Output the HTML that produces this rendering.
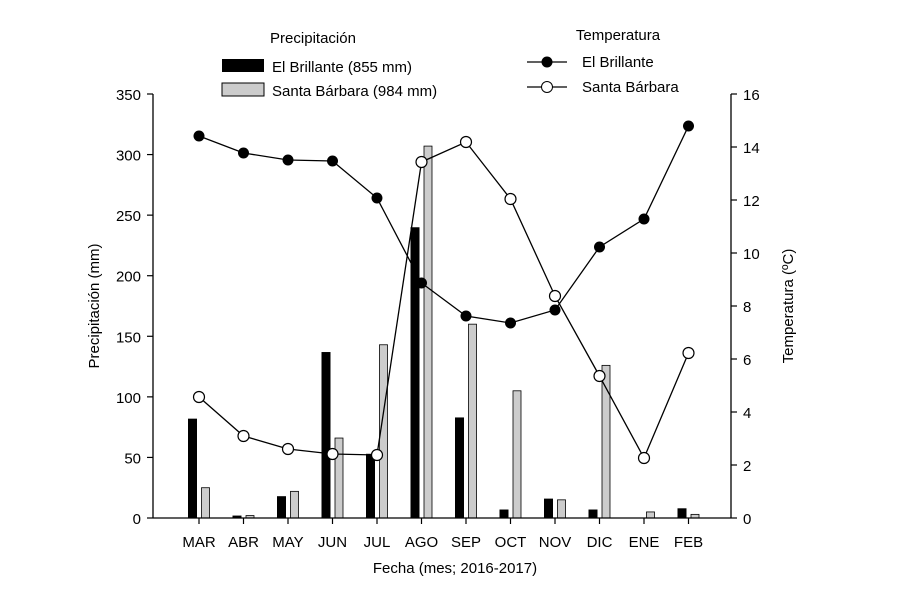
<!DOCTYPE html>
<html><head><meta charset="utf-8"><style>body{margin:0;background:#fff}svg{display:block}text{font-family:"Liberation Sans",sans-serif;fill:#000}</style></head><body>
<svg width="900" height="600" viewBox="0 0 900 600" xmlns="http://www.w3.org/2000/svg">
<g id="bars"></g>
<g stroke="#000" stroke-width="1.3" fill="none">
<line x1="153" y1="94" x2="153" y2="518"/>
<line x1="153" y1="518" x2="731" y2="518"/>
<line x1="731" y1="94" x2="731" y2="518"/>
</g>
<g id="ticks" stroke="#000" stroke-width="1.2"></g>
<g id="lab" font-size="15"></g>
<polyline id="l1" fill="none" stroke="#000" stroke-width="1.3"/>
<polyline id="l2" fill="none" stroke="#000" stroke-width="1.3"/>
<g id="m"></g>
<text x="455" y="573" font-size="15" text-anchor="middle">Fecha (mes; 2016-2017)</text>
<text transform="translate(99,306) rotate(-90)" font-size="15" text-anchor="middle">Precipitación (mm)</text>
<text transform="translate(793,306) rotate(-90)" font-size="15" text-anchor="middle">Temperatura (ºC)</text>
<text x="313" y="43" font-size="15" text-anchor="middle">Precipitación</text>
<rect x="222" y="59" width="42" height="13" fill="#000"/>
<text x="272" y="72" font-size="15">El Brillante (855 mm)</text>
<rect x="222" y="83" width="42" height="13" fill="#ccc" stroke="#000"/>
<text x="272" y="96" font-size="15">Santa Bárbara (984 mm)</text>
<text x="618" y="40" font-size="15" text-anchor="middle">Temperatura</text>
<line x1="527" y1="62" x2="567" y2="62" stroke="#000" stroke-width="1.3"/><circle cx="547" cy="62" r="5.5" fill="#000"/>
<text x="582" y="67" font-size="15">El Brillante</text>
<line x1="527" y1="87" x2="567" y2="87" stroke="#000" stroke-width="1.3"/><circle cx="547" cy="87" r="5.5" fill="#fff" stroke="#000"/>
<text x="582" y="92" font-size="15">Santa Bárbara</text>
<script>
var ns="http://www.w3.org/2000/svg";
function el(p,t,a,tx){var e=document.createElementNS(ns,t);for(var k in a)e.setAttribute(k,a[k]);if(tx!==undefined)e.textContent=String(tx);document.getElementById(p).appendChild(e);return e;}
var mo=["MAR","ABR","MAY","JUN","JUL","AGO","SEP","OCT","NOV","DIC","ENE","FEB"];
var b1=[82,2,18,137,53,240,83,7,16,7,0,8],b2=[25,2,22,66,143,307,160,105,15,126,5,3];
var y1=[136,153,160,161,198,283,316,323,310,247,219,126],y2=[397,436,449,454,455,162,142,199,296,376,458,353];
var s=424/350,p1=[],p2=[];
for(var i=0;i<12;i++){var c=199+i*44.5;
if(b1[i]>0)el("bars","rect",{x:c-11,y:518-b1[i]*s,width:9,height:b1[i]*s,fill:"#000"});
el("bars","rect",{x:c+2.5,y:518-b2[i]*s,width:8,height:b2[i]*s,fill:"#ccc",stroke:"#000","stroke-width":0.8});
el("ticks","line",{x1:c,y1:518,x2:c,y2:524});
el("lab","text",{x:c,y:547,"text-anchor":"middle"},mo[i]);
p1.push(c+","+y1[i]);p2.push(c+","+y2[i]);}
document.getElementById("l1").setAttribute("points",p1.join(" "));
document.getElementById("l2").setAttribute("points",p2.join(" "));
for(i=0;i<12;i++){c=199+i*44.5;
el("m","circle",{cx:c,cy:y1[i],r:5.5,fill:"#000"});
el("m","circle",{cx:c,cy:y2[i],r:5.5,fill:"#fff",stroke:"#000","stroke-width":1.2});}
for(var v=0;v<=350;v+=50){var y=518-v*s;el("ticks","line",{x1:147,y1:y,x2:153,y2:y});el("lab","text",{x:141,y:y+6,"text-anchor":"end"},v);}
for(v=0;v<=16;v+=2){y=518-v*26.5;el("ticks","line",{x1:731,y1:y,x2:737,y2:y});el("lab","text",{x:743,y:y+6},v);}
</script>
</svg></body></html>
